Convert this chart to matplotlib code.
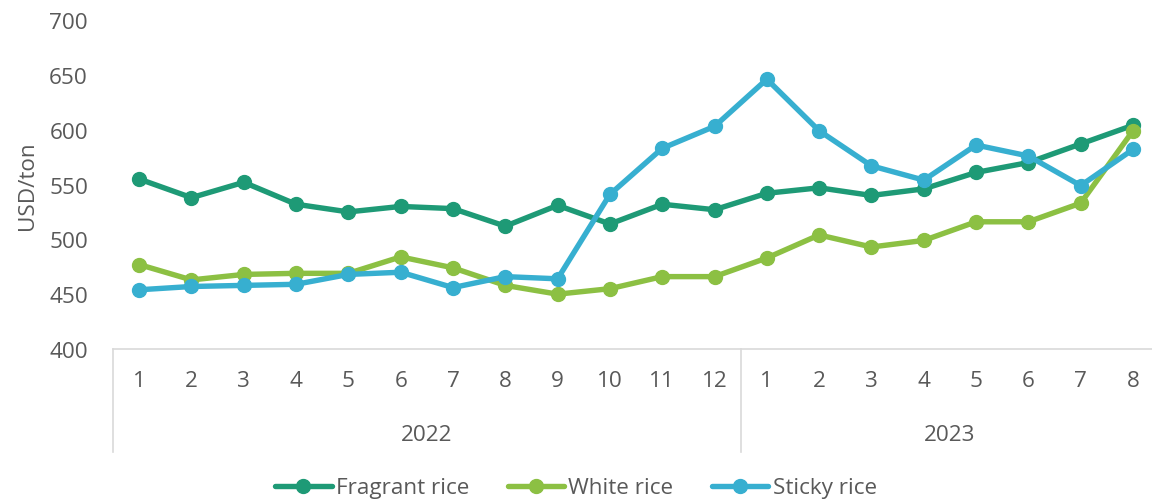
import matplotlib
matplotlib.use("Agg")
import matplotlib.pyplot as plt
from matplotlib.transforms import blended_transform_factory

months = ["1","2","3","4","5","6","7","8","9","10","11","12","1","2","3","4","5","6","7","8"]
years = ["2022", "2023"]
year_lengths = [12, 8]
fragrant = [555, 538, 552, 532, 525, 530, 528, 512, 531, 514, 532, 527, 542, 547, 540, 546, 561, 570, 587, 604]
white = [477, 463, 468, 469, 469, 484, 474, 458, 450, 455, 466, 466, 483, 504, 493, 499, 516, 516, 533, 599]
sticky = [454, 457, 458, 459, 468, 470, 456, 466, 464, 541, 583, 603, 646, 599, 567, 554, 586, 576, 549, 582]
series_names = ["Fragrant rice", "White rice", "Sticky rice"]
colors = ["#1e9a76", "#8cc043", "#37afd0"]

plt.rcParams['font.family'] = ['Open Sans', 'DejaVu Sans']
FS = 16.2
TXT = '#595959'
fig = plt.figure(figsize=(11.52, 5.02), dpi=100)
ax = fig.add_axes([113/1152, 152/502, (1152-113)/1152, 329/502])

x = list(range(len(months)))
for data, name, c in zip([fragrant, white, sticky], series_names, colors):
    ax.plot(x, data, color=c, lw=3.9, marker='o', ms=10, label=name, solid_capstyle='round')

ax.set_ylim(400, 700)
ax.set_yticks(range(400, 701, 50))
ax.set_xlim(-0.5, 19 + 19/52.32)
ax.set_xticks([])
for s in ['top', 'right', 'left']:
    ax.spines[s].set_visible(False)
ax.spines['bottom'].set_color('#d9d9d9')
ax.spines['bottom'].set_linewidth(1.2)
ax.tick_params(axis='y', length=0, labelsize=FS, labelcolor=TXT, pad=18)
ax.set_ylabel("USD/ton", fontsize=FS, color=TXT, labelpad=8)

tr = blended_transform_factory(ax.transData, ax.transAxes)
for i, m in enumerate(months):
    ax.text(i, -32/329, m, transform=tr, ha='center', va='center', fontsize=FS, color=TXT)
start = 0
bounds = [-0.5]
for yname, n in zip(years, year_lengths):
    center = start + (n - 1) / 2
    ax.text(center, -86/329, yname, transform=tr, ha='center', va='center', fontsize=FS, color=TXT)
    start += n
    bounds.append(start - 0.5)
for b in bounds:
    ax.plot([b, b], [0, -103/329], transform=tr, color='#d9d9d9', lw=1.2, clip_on=False)

leg = fig.legend(loc='center', bbox_to_anchor=(0.5, 13/502), ncol=3, frameon=False,
                 fontsize=FS, handlelength=2.5, columnspacing=1.7, handletextpad=0.2,
                 borderaxespad=0, borderpad=0)
for t in leg.get_texts():
    t.set_color(TXT)

fig.savefig("out.png", dpi=100)
